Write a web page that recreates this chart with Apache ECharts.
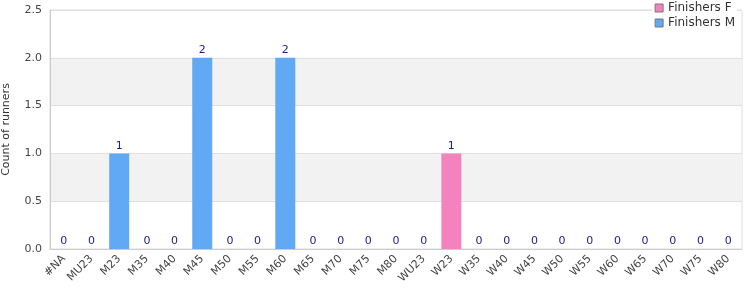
<!DOCTYPE html>
<html><head><meta charset="utf-8">
<script src="https://cdn.jsdelivr.net/npm/echarts@6/dist/echarts.min.js"></script>
<style>html,body{margin:0;padding:0;background:#fff}#c{width:750px;height:300px}</style>
</head><body><div id="c"></div>
<script>
var categories = ['#NA','MU23','M23','M35','M40','M45','M50','M55','M60','M65','M70','M75','M80','WU23','W23','W35','W40','W45','W50','W55','W60','W65','W70','W75','W80'];
var finishersF = [0,0,0,0,0,0,0,0,0,0,0,0,0,0,1,0,0,0,0,0,0,0,0,0,0];
var finishersM = [0,0,1,0,0,2,0,0,2,0,0,0,0,0,0,0,0,0,0,0,0,0,0,0,0];
var yTicks = [0,0.5,1,1.5,2,2.5];
var totals = categories.map(function(c,i){return finishersF[i]+finishersM[i];});
var font = 'DejaVu Sans';
var chart = echarts.init(document.getElementById('c'), null, {renderer:'canvas'});
chart.setOption({
  animation:false,
  textStyle:{fontFamily:font},
  grid:{left:50,right:8,top:10,bottom:51,outerBoundsMode:'none',containLabel:false,show:true,borderColor:'#ddd',borderWidth:1,backgroundColor:'transparent'},
  legend:{orient:'vertical',right:13,top:0,itemWidth:8,itemHeight:8,itemGap:3,padding:[2,2,3,2],backgroundColor:'#fff',
    icon:'rect',textStyle:{fontFamily:font,fontSize:12,color:'#333'},
    data:[{name:'Finishers F',itemStyle:{borderColor:'#777',borderWidth:1}},{name:'Finishers M',itemStyle:{borderColor:'#777',borderWidth:1}}]},
  xAxis:{type:'category',data:categories,
    axisLine:{lineStyle:{color:'#ccc'}},axisTick:{show:false},
    axisLabel:{rotate:45,interval:0,fontSize:11,color:'#444',fontFamily:font,margin:8}},
  yAxis:{type:'value',min:0,max:2.5,interval:0.5,name:'Count of runners',nameLocation:'middle',nameGap:38,
    nameTextStyle:{fontSize:11,color:'#333',fontFamily:font},
    axisLine:{show:true,lineStyle:{color:'#ccc'}},axisTick:{show:false},
    axisLabel:{fontSize:11,color:'#444',fontFamily:font,formatter:function(v){return v.toFixed(1);}},
    splitLine:{lineStyle:{color:'#e0e0e0'}},
    splitArea:{show:true,areaStyle:{color:['rgba(255,255,255,0)','#f2f2f2']}}},
  series:[
    {name:'Finishers F',type:'bar',stack:'t',data:finishersF,barWidth:20,itemStyle:{color:'#f283bd'}},
    {name:'Finishers M',type:'bar',stack:'t',data:finishersM,barWidth:20,itemStyle:{color:'#62a9f5'},
      label:{show:true,position:'top',distance:2,fontSize:11,color:'#1c1c8c',fontFamily:font,
        formatter:function(p){return String(totals[p.dataIndex]);}}}
  ]
});
</script></body></html>
